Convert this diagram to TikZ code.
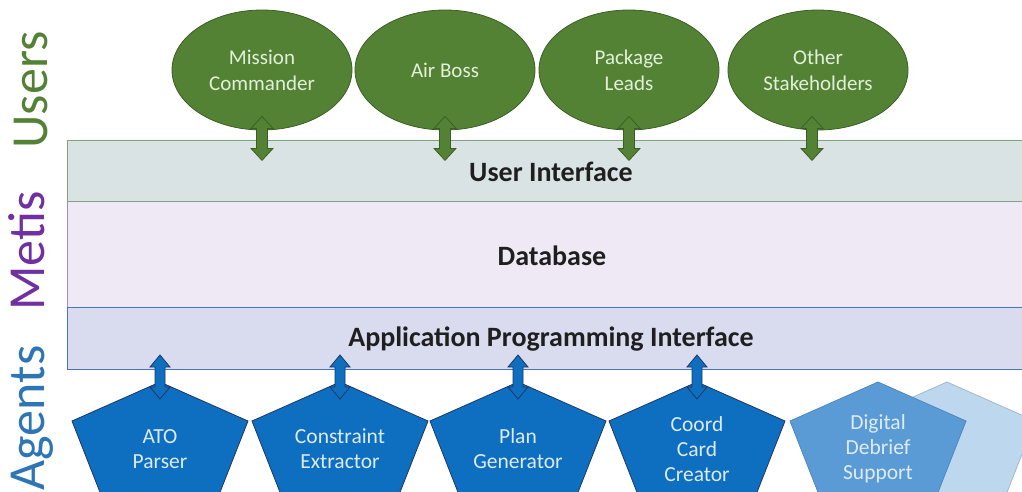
\documentclass[tikz,border=0pt]{standalone}
\usepackage{fontspec}
\setmainfont{Carlito}
\usetikzlibrary{shapes.geometric}
\definecolor{usergreen}{HTML}{548235}
\definecolor{userline}{HTML}{3B5E25}
\definecolor{usertext}{HTML}{E2F0D9}
\definecolor{layergreen}{HTML}{548235}
\definecolor{layerpurple}{HTML}{7030A0}
\definecolor{layerblue}{HTML}{2E75B6}
\definecolor{uifill}{HTML}{DAE3E3}
\definecolor{uiline}{HTML}{7FA37F}
\definecolor{dbfill}{HTML}{EFE9F5}
\definecolor{dbline}{HTML}{9C8FB8}
\definecolor{apifill}{HTML}{D9DCEF}
\definecolor{apiline}{HTML}{4A72C0}
\definecolor{agentblue}{HTML}{0E6EC0}
\definecolor{agentline}{HTML}{1F3864}
\definecolor{agenttextcol}{HTML}{DDEBF7}
\definecolor{futureblue}{HTML}{5B9BD5}
\definecolor{futureline}{HTML}{4F87BF}
\definecolor{palefill}{HTML}{BDD7EE}
\definecolor{paleline}{HTML}{A3B7CB}
\newcommand\agentpent[2]{% centre x, style
  \path[#2] (#1,382) -- (#1+88,421) -- (#1+55,505) -- (#1-55,505) -- (#1-88,421) -- cycle;}
\begin{document}
\begin{tikzpicture}[x=1pt,y=-1pt,
  user/.style={ellipse, draw=userline, line width=0.8pt, fill=usergreen,
    minimum width=180pt, minimum height=120pt, inner sep=0pt,
    text=usertext, font=\fontsize{21}{26}\selectfont, align=center},
  band/.style={anchor=north west, inner sep=0pt, line width=1pt},
  bandlabel/.style={font=\bfseries\fontsize{28}{33}\selectfont, text=black!88},
  layerlabel/.style={rotate=90, anchor=base, font=\fontsize{52}{62}\selectfont},
  gblock/.style={fill=usergreen, draw=userline, line width=0.8pt},
  bblock/.style={fill=agentblue, draw=agentline, line width=0.8pt},
  agent/.style={fill=agentblue, draw=agentline, line width=0.8pt},
  future/.style={fill=futureblue, draw=futureline, line width=0.8pt},
  pale/.style={fill=palefill, draw=paleline, line width=0.8pt},
  agenttext/.style={text=agenttextcol, font=\fontsize{21.5}{25}\selectfont, align=center}]
\useasboundingbox (0,0) rectangle (1022,491);
\clip (0,0) rectangle (1022,491);

% layer captions
\node[layerlabel, text=layergreen] (lusers) at (47,90) {Users};
\node[layerlabel, text=layerpurple] (lmetis) at (44,251) {Metis};
\node[layerlabel, text=layerblue] (lagents) at (44,418) {Agents};

% Metis bands
\node[band, fill=dbfill, draw=dbline, minimum width=960pt, minimum height=106pt] (db) at (67,201) {};
\node[band, fill=uifill, draw=uiline, minimum width=960pt, minimum height=61pt] (ui) at (67,140) {};
\node[band, fill=apifill, draw=apiline, minimum width=960pt, minimum height=62pt] (api) at (67,307) {};
\node[bandlabel] (uilabel) at (551,172) {User Interface};
\node[bandlabel] (dblabel) at (552,256) {Database};
\node[bandlabel] (apilabel) at (551,339) {Application Programming Interface};

% users
\node[user] (mc) at (262,70) {Mission\\Commander};
\node[user] (ab) at (445,70) {Air Boss};
\node[user] (pl) at (629,70) {Package\\Leads};
\node[user] (os) at (818,70) {Other\\Stakeholders};

% user <-> interface arrows
\foreach \u/\dx in {mc/0, ab/0, pl/0, os/-6}{
  \draw[gblock] ([xshift=\dx pt, yshift=14pt]\u.south) -- ++(11,12) -- ++(-5.5,0) -- ++(0,20)
    -- ++(5.5,0) -- ++(-11,12) -- ++(-11,-12) -- ++(5.5,0) -- ++(0,-20) -- ++(-5.5,0) -- cycle;
}

% agents
\agentpent{947}{pale}
\agentpent{878}{future}
\agentpent{160}{agent}
\agentpent{340}{agent}
\agentpent{518}{agent}
\agentpent{697}{agent}
\coordinate (atotop) at (160,382);
\coordinate (cetop) at (340,382);
\coordinate (pgtop) at (518,382);
\coordinate (cctop) at (697,382);
\node[agenttext] (ato) at (160,449) {ATO\\Parser};
\node[agenttext] (ce) at (340,449) {Constraint\\Extractor};
\node[agenttext] (pg) at (518,449) {Plan\\Generator};
\node[agenttext] (cc) at (697,449) {Coord\\Card\\Creator};
\node[agenttext] (dd) at (878,449) {Digital\\Debrief\\Support};

% agent <-> API arrows
\foreach \a in {atotop, cetop, pgtop, cctop}{
  \draw[bblock] ([yshift=27pt]\a) -- ++(10,12) -- ++(-5,0) -- ++(0,20)
    -- ++(5,0) -- ++(-10,12) -- ++(-10,-12) -- ++(5,0) -- ++(0,-20) -- ++(-5,0) -- cycle;
}
\end{tikzpicture}
\end{document}
